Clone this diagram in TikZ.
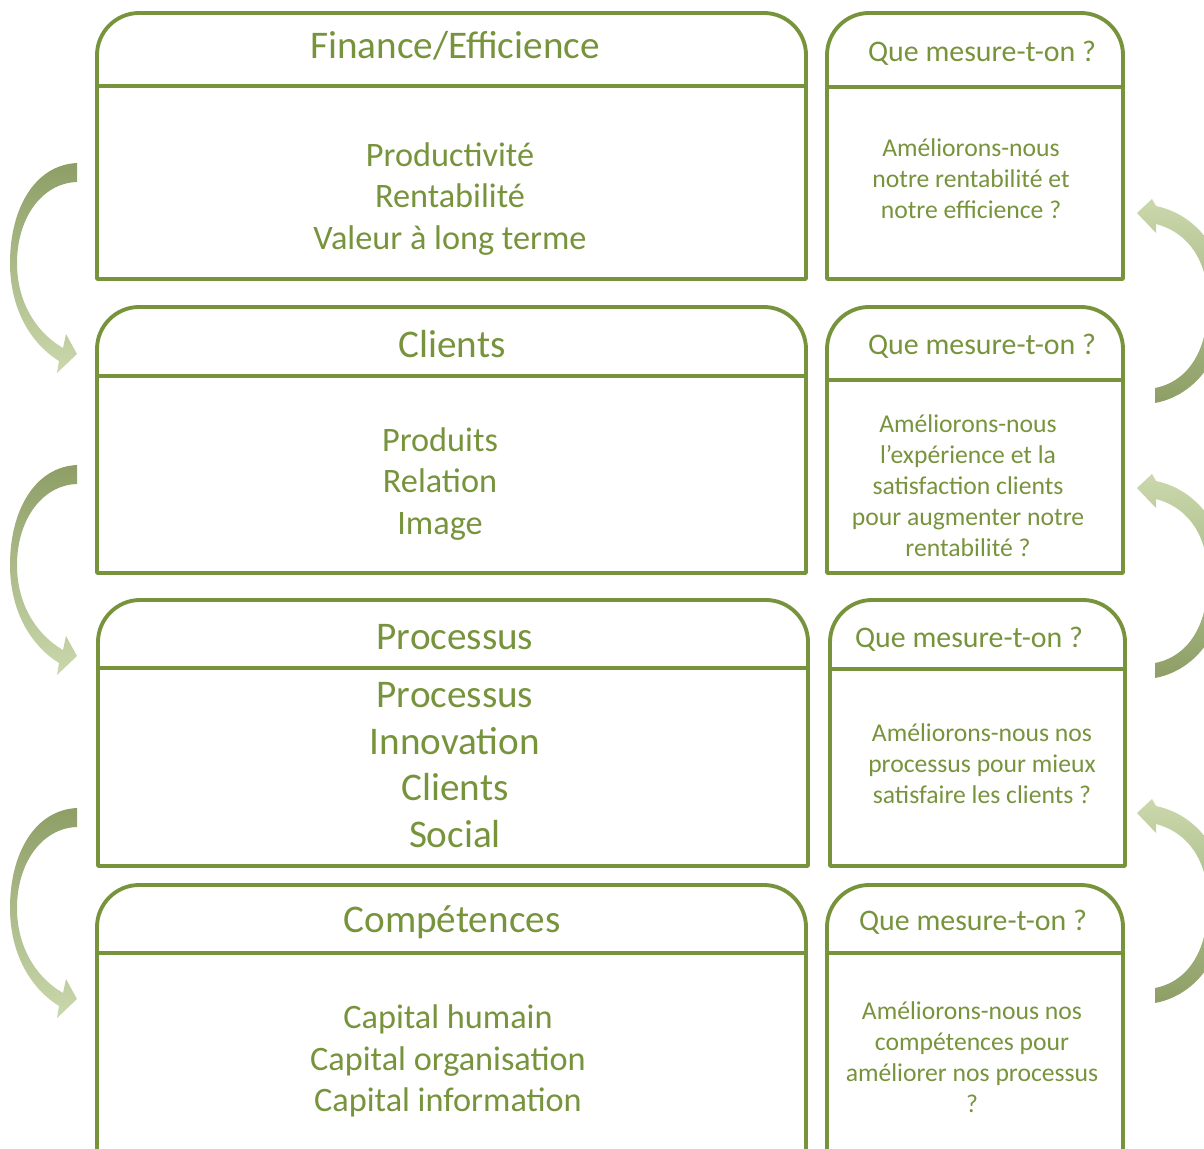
\documentclass[tikz,border=0pt]{standalone}
\usepackage{fontspec}
\setmainfont{Carlito}
\usepackage{tikz}
\usepackage{xcolor}
\definecolor{kpigreen}{HTML}{77933C}
\definecolor{arrowdark}{HTML}{8E9E66}
\definecolor{arrowlight}{HTML}{CAD8AC}

\begin{document}
\begin{tikzpicture}[x=0.02cm, y=-0.02cm,
  boxline/.style={draw=kpigreen, line width=2.2pt, line join=round},
  title/.style={text=kpigreen, font=\fontsize{22.3}{26}\selectfont},
  body/.style={text=kpigreen, align=center, font=\fontsize{19.5}{23.6}\selectfont},
  bigbody/.style={text=kpigreen, align=center, font=\fontsize{22.3}{26.4}\selectfont},
  qtitle/.style={text=kpigreen, font=\fontsize{17}{20}\selectfont},
  qbody/.style={text=kpigreen, align=center, font=\fontsize{14.6}{17.6}\selectfont}]
  \useasboundingbox (0,0) rectangle (1204,1149);
  \clip (0,0) rectangle (1204,1149);

  \foreach \xa/\ya/\xb/\yb/\yh in {97/13/806/279/86, 97/307/806/573/376, 98/600/808/866/668, 97/885/806/1180/953,
      827/13/1123/279/87, 827/307/1123/573/380, 830/600/1125/866/669, 827/885/1123/1180/953} {
    \draw[boxline] (\xa,\yb) -- (\xa,\ya+42) .. controls (\xa,\ya+19) and (\xa+19,\ya) .. (\xa+42,\ya)
      -- (\xb-42,\ya) .. controls (\xb-19,\ya) and (\xb,\ya+19) .. (\xb,\ya+42) -- (\xb,\yb) -- cycle;
    \draw[boxline] (\xa,\yh) -- (\xb,\yh);
  }

  \foreach \y in {163,465,808}
    \shade[top color=arrowdark, bottom color=arrowlight, shift={(0,\y)}]
      (77,0) .. controls (35,2) and (10,45) .. (10,100) .. controls (10,145) and (30,180) .. (59,198)
      -- (57,210) -- (77,191) -- (66,171) -- (63,185)
      .. controls (37,170) and (17,140) .. (17,100) .. controls (17,55) and (42,20) .. (77,19) -- cycle;

  \foreach \y in {403,678,1003}
    \shade[top color=arrowlight, bottom color=arrowdark, shift={(0,\y)}]
      (1155,0) .. controls (1198,-8) and (1226,-50) .. (1226,-100) .. controls (1226,-150) and (1198,-188) .. (1156,-197)
      -- (1152,-204) -- (1137,-190) -- (1156,-170) -- (1156,-179)
      .. controls (1190,-170) and (1208,-140) .. (1208,-100) .. controls (1208,-55) and (1190,-22) .. (1155,-15) -- cycle;

  \node (fin) [title] at (455,46) {Finance/Efficience};
  \node (finbody) [body] at (450,199) {Productivité\\Rentabilité\\Valeur à long terme};
  \node (cli) [title] at (452,344) {Clients};
  \node (clibody) [body] at (440,484) {Produits\\Relation\\Image};
  \node (pro) [title] at (455,637) {Processus};
  \node (probody) [bigbody] at (455,765) {Processus\\Innovation\\Clients\\Social};
  \node (comp) [title] at (452,922) {Compétences};
  \node (compbody) [body] at (448,1061) {Capital humain\\Capital organisation\\Capital information};

  \node (q1) [qtitle] at (982,53) {Que mesure-t-on ?};
  \node (q1body) [qbody] at (971,179) {Améliorons-nous\\notre rentabilité et\\notre efficience ?};
  \node (q2) [qtitle] at (982,346) {Que mesure-t-on ?};
  \node (q2body) [qbody] at (968,486) {Améliorons-nous\\l’expérience et la\\satisfaction clients\\pour augmenter notre\\rentabilité ?};
  \node (q3) [qtitle] at (969,639) {Que mesure-t-on ?};
  \node (q3body) [qbody] at (982,764) {Améliorons-nous nos\\processus pour mieux\\satisfaire les clients ?};
  \node (q4) [qtitle] at (973,922) {Que mesure-t-on ?};
  \node (q4body) [qbody] at (972,1057) {Améliorons-nous nos\\compétences pour\\améliorer nos processus\\?};
\end{tikzpicture}
\end{document}
